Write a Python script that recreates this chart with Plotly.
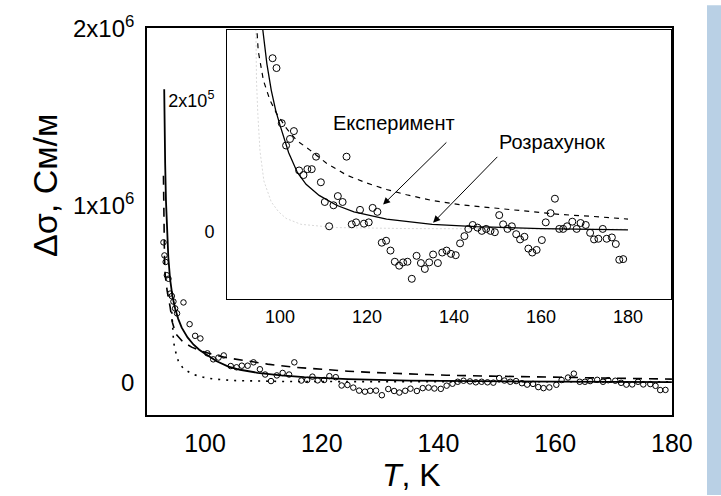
import plotly.graph_objects as go

# ---------------- data (conductivity in units of 1e5 S/m) ----------------
T_exp = [92.87, 93.04, 93.25, 93.45, 93.73, 94.02, 94.30, 94.58, 94.87, 95.20, 96.30, 97.35,
         98.3, 99.2, 100.4, 101.4, 102.3, 103.2, 104.4, 105.4, 106.3, 107.3, 108.3, 109.4,
         110.3, 111.3, 112.3, 113.3, 114.4, 115.3, 116.5, 117.5, 118.4, 119.3, 120.4, 121.3,
         122.4, 123.4, 124.4, 125.4, 126.4, 127.4, 128.3, 129.3, 130.3, 131.4, 132.4, 133.3,
         134.3, 135.2, 136.3, 137.3, 138.3, 139.3, 140.4, 141.4, 142.4, 143.3, 144.3, 145.4,
         146.4, 147.4, 148.4, 149.4, 150.4, 151.3, 152.3, 153.3, 154.3, 155.2, 156.2, 157.1,
         158.0, 159.0, 160.2, 161.1, 162.2, 163.2, 164.2, 165.1, 166.0, 167.2, 168.2, 169.1,
         170.3, 171.3, 172.2, 173.2, 174.2, 175.1, 176.3, 177.2, 178.0, 178.9]
sigma_exp = [7.93, 7.19, 6.82, 6.07, 5.87, 5.03, 4.89, 4.58, 4.19, 3.91, 4.53, 3.30,
             2.64, 2.49, 1.65, 1.31, 1.41, 1.53, 0.93, 0.86, 0.95, 0.95, 1.14, 0.75,
             0.45, 0.08, 0.40, 0.54, 0.45, 1.14, 0.11, 0.14, 0.33, 0.12, 0.14, 0.36,
             0.30, -0.17, -0.14, -0.29, -0.46, -0.52, -0.47, -0.46, -0.72, -0.37, -0.48, -0.57,
             -0.47, -0.35, -0.48, -0.32, -0.29, -0.34, -0.36, -0.18, -0.07, 0.04, 0.10, 0.06,
             0.01, 0.04, 0.01, -0.01, 0.25, 0.11, 0.04, 0.08, -0.04, -0.12, -0.08, -0.26,
             -0.32, -0.28, -0.13, 0.14, 0.28, 0.50, 0.04, 0.04, 0.08, 0.15, 0.04, 0.13,
             0.10, -0.02, -0.12, -0.11, 0.04, -0.11, -0.09, -0.19, -0.43, -0.42]

T_calc = [93.0, 93.05, 93.16, 93.3, 93.45, 93.7, 94.0, 94.4, 94.87, 95.4, 96.0, 97.0, 98.0,
          99.0, 100.0, 101.0, 102.0, 104.0, 106.0, 109.0, 113.0, 117.0, 124.5, 135.0,
          145.0, 160.0, 180.0]
sigma_calc = [16.6, 14.0, 12.4, 10.3, 8.66, 7.1, 5.87, 4.9, 4.19, 3.6, 3.1, 2.55, 2.15,
              1.85, 1.62, 1.4, 1.2, 0.9, 0.72, 0.55, 0.4, 0.3, 0.19, 0.11,
              0.075, 0.045, 0.026]

T_dash = [92.87, 92.95, 93.04, 93.16, 93.5, 94.0, 94.4, 95.0, 96.2, 97.7, 99.2, 101.5, 103.8,
          106.9, 110.7, 115.3, 119.9, 124.5, 129.1, 135.2, 141.4, 149.0, 156.7, 164.4,
          172.0, 180.0]
sigma_dash = [11.7, 8.7, 7.2, 6.1, 5.2, 4.3, 3.4, 2.75, 2.3, 2.0, 1.8, 1.57, 1.39,
              1.24, 1.04, 0.86, 0.74, 0.64, 0.56, 0.47, 0.41, 0.36, 0.31, 0.26,
              0.23, 0.19]

T_dot = [94.3, 94.45, 94.6, 94.9, 95.4, 96.3, 98.0, 99.7, 101.4, 104.8, 112.8, 130.0, 155.0, 180.0]
sigma_dot = [4.0, 2.9, 2.3, 1.8, 1.23, 0.77, 0.45, 0.30, 0.20, 0.11, 0.06, 0.045, 0.04, 0.035]

x_ticks = [100, 120, 140, 160, 180]
main_y_ticks = [0, 10, 20]
main_y_labels = ["0", "1x10<sup>6</sup>", "2x10<sup>6</sup>"]
inset_y_ticks = [0, 2]
inset_y_labels = ["0", "2x10<sup>5</sup>"]

FONT = "Liberation Sans, Arial, sans-serif"

fig = go.Figure()

# ---- main plot ----
fig.add_trace(go.Scatter(x=T_dot, y=sigma_dot, mode="lines", xaxis="x", yaxis="y",
                         line=dict(color="black", width=1.6, dash="2px,6px")))
fig.add_trace(go.Scatter(x=T_dash, y=sigma_dash, mode="lines", xaxis="x", yaxis="y",
                         line=dict(color="black", width=1.6, dash="9px,7px")))
fig.add_trace(go.Scatter(x=T_calc, y=sigma_calc, mode="lines", xaxis="x", yaxis="y",
                         line=dict(color="black", width=1.8)))
fig.add_trace(go.Scatter(x=T_exp, y=sigma_exp, mode="markers", xaxis="x", yaxis="y",
                         marker=dict(symbol="circle-open", size=5.5, color="black",
                                     line=dict(width=1, color="black"))))

# ---- inset ----
fig.add_trace(go.Scatter(x=T_dot, y=sigma_dot, mode="lines", xaxis="x2", yaxis="y2",
                         line=dict(color="#d9d9d9", width=1, dash="2px,2px")))
fig.add_trace(go.Scatter(x=T_dash, y=sigma_dash, mode="lines", xaxis="x2", yaxis="y2",
                         line=dict(color="black", width=1.2, dash="5px,5px")))
fig.add_trace(go.Scatter(x=T_calc, y=sigma_calc, mode="lines", xaxis="x2", yaxis="y2",
                         line=dict(color="black", width=1.3)))
fig.add_trace(go.Scatter(x=T_exp, y=sigma_exp, mode="markers", xaxis="x2", yaxis="y2",
                         marker=dict(symbol="circle-open", size=7, color="black",
                                     line=dict(width=1, color="black"))))

W, H = 721, 496
L, R, Tm, B = 147, 49, 23, 81
PW, PH = W - L - R, H - Tm - B


def px(x):
    return (x - L) / PW


def py(y):
    return (H - B - y) / PH


axis_common = dict(showline=True, mirror=True, linecolor="black", showgrid=False,
                   zeroline=False, ticks="")

fig.update_layout(
    width=W, height=H,
    margin=dict(l=L, r=R, t=Tm, b=B, pad=0),
    paper_bgcolor="white", plot_bgcolor="white",
    showlegend=False,
    font=dict(family=FONT, color="black"),
    xaxis=dict(domain=[0, 1], anchor="y", range=[90.05, 180.02], tickvals=x_ticks,
               tickfont=dict(size=25), ticklabelstandoff=5, linewidth=1.6, **axis_common),
    yaxis=dict(domain=[0, 1], anchor="x", range=[-1.84, 20.06], tickvals=main_y_ticks,
               ticktext=main_y_labels, tickfont=dict(size=24), ticklabelstandoff=6,
               linewidth=1.6, **axis_common),
    xaxis2=dict(domain=[px(227), px(671)], anchor="y2", range=[87.82, 189.89],
                tickvals=x_ticks, tickfont=dict(size=18), ticklabelstandoff=2,
                linewidth=1, **axis_common),
    yaxis2=dict(domain=[py(297), py(25)], anchor="x2", range=[-1.02, 3.07],
                tickvals=inset_y_ticks, ticktext=inset_y_labels, tickfont=dict(size=18),
                ticklabelstandoff=8, linewidth=1, **axis_common),
    shapes=[dict(type="rect", xref="paper", yref="paper", x0=px(707), x1=px(721),
                 y0=py(496), y1=py(0), fillcolor="#b9d0e5", line=dict(width=0),
                 layer="below")],
    annotations=[
        dict(text="Δσ, См/м", xref="paper", yref="paper", x=px(45), y=py(183),
             textangle=-90, showarrow=False, font=dict(size=34),
             xanchor="center", yanchor="middle"),
        dict(text="<i>T</i>, K", xref="paper", yref="paper", x=px(411), y=py(476),
             showarrow=False, font=dict(size=32), xanchor="center", yanchor="middle"),
        dict(text="Експеримент", xref="x2", yref="y2", x=126.2, y=1.65, showarrow=False,
             font=dict(size=20), xanchor="center", yanchor="middle"),
        dict(text="Розрахунок", xref="x2", yref="y2", x=162.5, y=1.37, showarrow=False,
             font=dict(size=20), xanchor="center", yanchor="middle"),
        dict(text="", xref="x2", yref="y2", x=123.7, y=0.41, axref="x2", ayref="y2",
             ax=138.6, ay=1.38, showarrow=True, arrowhead=2, arrowsize=1.4,
             arrowwidth=1, arrowcolor="black"),
        dict(text="", xref="x2", yref="y2", x=135.2, y=0.135, axref="x2", ayref="y2",
             ax=150.3, ay=1.16, showarrow=True, arrowhead=2, arrowsize=1.4,
             arrowwidth=1, arrowcolor="black"),
    ],
)

fig.write_html("out.html")
